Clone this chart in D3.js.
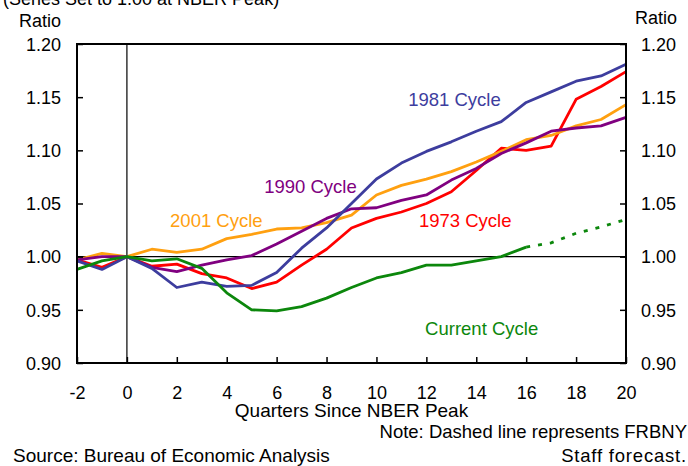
<!DOCTYPE html>
<html>
<head>
<meta charset="utf-8">
<script src="https://cdn.jsdelivr.net/npm/d3@7"></script>
<style>
  body { margin: 0; background: #fff; }
  svg { display: block; font-family: Arial, "Liberation Sans", sans-serif; }
</style>
</head>
<body>
<div id="graph"></div>
<script>
// --- Data (ratio to NBER peak, quarters -2..20) ---
const quarters = d3.range(-2, 21);
const cycle1973 = [0.997, 0.990, 1.000, 0.991, 0.993, 0.984, 0.980, 0.970, 0.976, 0.992, 1.007, 1.027, 1.036, 1.042, 1.050, 1.061, 1.081, 1.102, 1.100, 1.104, 1.148, 1.160, 1.174];
const cycle1981 = [0.996, 0.988, 1.000, 0.989, 0.971, 0.976, 0.972, 0.973, 0.985, 1.008, 1.027, 1.050, 1.073, 1.088, 1.099, 1.108, 1.118, 1.127, 1.145, 1.155, 1.165, 1.170, 1.181];
const cycle1990 = [0.997, 1.000, 1.000, 0.990, 0.986, 0.992, 0.997, 1.001, 1.012, 1.024, 1.036, 1.045, 1.046, 1.053, 1.058, 1.072, 1.083, 1.097, 1.107, 1.118, 1.121, 1.123, 1.131];
const cycle2001 = [0.997, 1.003, 1.000, 1.007, 1.004, 1.007, 1.017, 1.021, 1.026, 1.027, 1.032, 1.039, 1.058, 1.067, 1.073, 1.080, 1.089, 1.099, 1.110, 1.114, 1.123, 1.129, 1.143];
const currentCycle = [0.988, 0.996, 1.000, 0.996, 0.998, 0.989, 0.966, 0.950, 0.949, 0.953, 0.961, 0.971, 0.980, 0.985, 0.992, 0.992, 0.996, 1.000, 1.009];
const forecastQuarters = [16, 17, 18, 19, 20];
const forecastValues = [1.009, 1.013, 1.022, 1.028, 1.035];

const xTicks = d3.range(-2, 21, 2);
const yTicks = [0.90, 0.95, 1.00, 1.05, 1.10, 1.15, 1.20];

const series = [
    { name: "1973 Cycle", values: cycle1973, color: "#ff0000", lq: 11.7, lv: 1.028 },
    { name: "2001 Cycle", values: cycle2001, color: "#ffa010", lq: 1.73, lv: 1.028 },
    { name: "1990 Cycle", values: cycle1990, color: "#800080", lq: 5.5, lv: 1.060 },
    { name: "1981 Cycle", values: cycle1981, color: "#3d3d9e", lq: 11.27, lv: 1.142 },
    { name: "Current Cycle", values: currentCycle, color: "#0c870c", lq: 11.95, lv: 0.926 }
];

// --- Rendering ---
const width = 688, height = 466, margin = { top: 44, right: 62, bottom: 103, left: 77 };

const svg = d3.select("#graph")
    .append("svg")
    .attr("width", width)
    .attr("height", height);

const x = d3.scaleLinear()
    .domain([-2, 20])
    .range([margin.left, width - margin.right]);

const y = d3.scaleLinear()
    .domain([0.90, 1.20])
    .range([height - margin.bottom, margin.top]);

// reference lines at 1.00 and quarter 0
svg.append("line")
    .attr("x1", x(-2)).attr("x2", x(20))
    .attr("y1", y(1)).attr("y2", y(1))
    .attr("stroke", "#000").attr("stroke-width", 1.2);
svg.append("line")
    .attr("x1", x(0)).attr("x2", x(0))
    .attr("y1", y(0.9)).attr("y2", y(1.2))
    .attr("stroke", "#000").attr("stroke-width", 1.2);

const line = d3.line()
    .x(d => x(d[0]))
    .y(d => y(d[1]));

series.forEach(s => {
    svg.append("path")
        .datum(s.values.map((v, i) => [quarters[i], v]))
        .attr("fill", "none")
        .attr("stroke", s.color)
        .attr("stroke-width", 2.8)
        .attr("stroke-linejoin", "round")
        .attr("d", line);

    svg.append("text")
        .attr("x", x(s.lq))
        .attr("y", y(s.lv))
        .attr("fill", s.color)
        .style("font-size", "18.5px")
        .text(s.name);
});

// forecast (dashed)
svg.append("path")
    .datum(forecastQuarters.map((q, i) => [q, forecastValues[i]]))
    .attr("fill", "none")
    .attr("stroke", "#0c870c")
    .attr("stroke-width", 2.8)
    .attr("stroke-dasharray", "4,8")
    .attr("d", line);

// frame
svg.append("rect")
    .attr("x", x(-2)).attr("y", y(1.2))
    .attr("width", x(20) - x(-2))
    .attr("height", y(0.9) - y(1.2))
    .attr("fill", "none")
    .attr("stroke", "#000")
    .attr("stroke-width", 2);

// left axis
const left = svg.append("g")
    .attr("transform", `translate(${margin.left},0)`)
    .call(d3.axisRight(y).tickValues(yTicks).tickSize(6).tickFormat(d3.format(".2f")));
left.select(".domain").remove();
left.selectAll("line").attr("stroke-width", 1.5);
left.selectAll("text")
    .attr("x", -16)
    .attr("dy", "0.35em")
    .attr("text-anchor", "end")
    .attr("fill", "#000")
    .style("font-size", "18px")
    .style("font-family", "Arial, 'Liberation Sans', sans-serif");

// right axis
const right = svg.append("g")
    .attr("transform", `translate(${width - margin.right},0)`)
    .call(d3.axisLeft(y).tickValues(yTicks).tickSize(6).tickFormat(d3.format(".2f")));
right.select(".domain").remove();
right.selectAll("line").attr("stroke-width", 1.5);
right.selectAll("text")
    .attr("x", 15)
    .attr("dy", "0.35em")
    .attr("text-anchor", "start")
    .attr("fill", "#000")
    .style("font-size", "18px")
    .style("font-family", "Arial, 'Liberation Sans', sans-serif");

// bottom axis
const bottom = svg.append("g")
    .attr("transform", `translate(0,${height - margin.bottom})`)
    .call(d3.axisTop(x).tickValues(xTicks).tickSize(6).tickFormat(d => String(d)));
bottom.select(".domain").remove();
bottom.selectAll("line").attr("stroke-width", 1.5);
bottom.selectAll("text")
    .attr("y", 36)
    .attr("dy", 0)
    .attr("fill", "#000")
    .style("font-size", "18px")
    .style("font-family", "Arial, 'Liberation Sans', sans-serif");

// titles and notes
const note = (txt, tx, ty, anchor, extra) => {
    const t = svg.append("text")
        .attr("x", tx).attr("y", ty)
        .attr("text-anchor", anchor)
        .style("font-size", "18px")
        .text(txt);
    if (extra) extra(t);
    return t;
};

note("(Series Set to 1.00 at NBER Peak)", 3, 5, "start");
note("Ratio", 61, 27, "end");
note("Ratio", 677, 24, "end");
note("Quarters Since NBER Peak", (x(-2) + x(20)) / 2, 417, "middle", t => t.style("font-size", "19px"));
note("Note: Dashed line represents FRBNY", 687, 438, "end", t => t.style("font-size", "18.5px"));
note("Source: Bureau of Economic Analysis", 13, 462, "start", t => t.style("font-size", "19px"));
note("Staff forecast.", 687, 462, "end", t => t.style("font-size", "18.5px").style("letter-spacing", "0.8px"));
</script>
</body>
</html>
